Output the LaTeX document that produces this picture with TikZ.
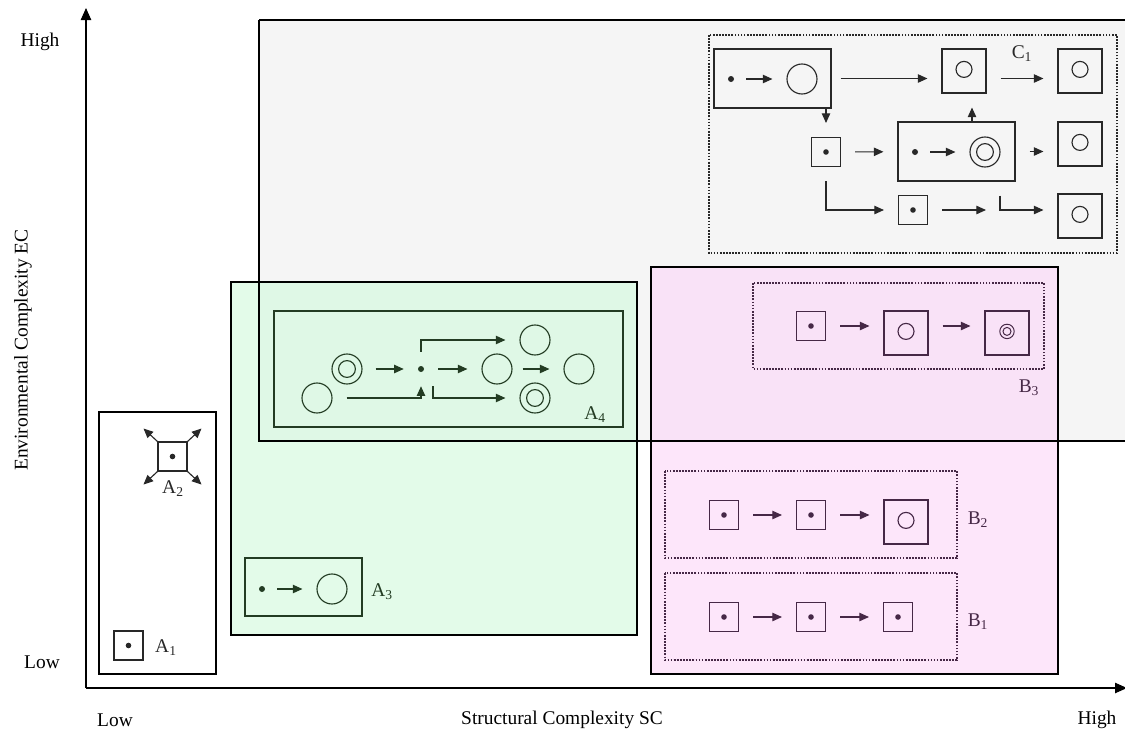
\documentclass[tikz,border=0pt]{standalone}
\usepackage{fontspec}
\setmainfont{Liberation Serif}
\usepackage{tikz}
\usetikzlibrary{arrows.meta,calc,positioning}

\definecolor{regGray}{RGB}{245,245,245}
\definecolor{regGreen}{RGB}{215,250,224}
\definecolor{regPink}{RGB}{252,219,248}
\definecolor{inkG}{RGB}{35,60,35}
\definecolor{inkP}{RGB}{70,40,70}
\definecolor{inkK}{RGB}{40,40,40}

\tikzset{
    region/.style = {line width=1.9pt},
    group/.style = {line width=1.5pt, dash pattern=on 1.2pt off 1pt},
    frame/.style = {draw, line width=0.75pt, inner sep=0pt},
    dotbox/.style = {frame, minimum size=7.25mm,
        path picture={\fill (path picture bounding box.center) circle (0.7mm);}},
    ringbox/.style = {frame, minimum size=11mm,
        path picture={\draw[line width=0.8pt] ([yshift=0.4mm]path picture bounding box.center) circle (2mm);}},
    dringbox/.style = {frame, minimum size=11mm,
        path picture={\draw[line width=0.7pt] ([yshift=0.4mm]path picture bounding box.center) circle (1.8mm)
                                                   ([yshift=0.4mm]path picture bounding box.center) circle (1mm);}},
    blob/.style = {circle, draw, line width=0.8pt, minimum size=7.5mm, inner sep=0pt},
    dblob/.style = {blob, path picture={\draw[line width=0.8pt] (path picture bounding box.center) circle (2.1mm);}},
    pt/.style = {circle, fill, inner sep=0pt, minimum size=1.5mm},
    flow/.style = {line width=0.8pt, -{Triangle[length=2.4mm,width=2.1mm]},
        shorten <=3.5mm, shorten >=3.5mm},
    axis/.style = {line width=0.8pt, -{Triangle[length=3mm,width=2.6mm]}},
    lbl/.style = {inner sep=0pt},
}

\begin{document}
\begin{tikzpicture}[x=0.25mm, y=-0.25mm, font=\fontsize{13.8pt}{16pt}\selectfont]

\useasboundingbox (0,0) rectangle (1125,733);

% regions
\fill[regGray] (259,20) rectangle (1140,441);
\fill[regGreen, fill opacity=0.7] (231,282) rectangle (637,635);
\fill[regPink, fill opacity=0.7] (651,267) rectangle (1058,674);

\draw[region] (259,20) -- (1140,20) (259,20) -- (259,441) -- (1140,441);
\draw[region] (231,282) rectangle (637,635);
\draw[region] (651,267) rectangle (1058,674);
\draw[region] (99,412) rectangle (216,674);

% axes
\draw[axis] (86,688) -- (86,8);
\draw[axis] (86,688) -- (1127,688);

\node[lbl] (yhigh) at (40,42) {High};
\node[lbl] (ylow) at (42,662) {Low};
\node[lbl] (xlow) at (115,720) {Low};
\node[lbl] (xhigh) at (1097,720) {High};
\node[lbl] (xname) at (562,720) {Structural Complexity SC};
\node[lbl, rotate=90] (yname) at (23,350) {Environmental Complexity EC};

% A1, A2
\begin{scope}[inkK]
\node[dotbox] (a1) at (128.5,645.5) {};
\node[lbl] (a1l) at (166,648) {A\textsubscript{1}};

\node[dotbox] (a2) at (172.5,456.5) {};
\node[lbl] (a2l) at (173,489) {A\textsubscript{2}};
\foreach \c/\dx/\dy in {north west/-14/-13, north east/14/-13, south west/-14/13, south east/14/13}
    \draw[line width=0.8pt, -{Triangle[length=2.4mm,width=2.1mm]}] (a2.\c) -- ++(\dx,\dy);
\end{scope}

% A3
\begin{scope}[inkG]
\node[frame, minimum width=29.25mm, minimum height=14.5mm] (a3) at (303.5,587) {};
\node[pt] (a3p) at (262,589) {};
\node[blob] (a3c) at (332,589) {};
\draw[flow, shorten <=3mm] (a3p) -- (a3c);
\node[lbl] (a3l) at (382,592) {A\textsubscript{3}};

% A4
\node[frame, minimum width=87.25mm, minimum height=29mm] (a4) at (448.5,369) {};
\node[dblob] (a4d1) at (347,369) {};
\node[blob] (a4b1) at (317,398) {};
\node[pt] (a4p) at (421,369) {};
\node[blob] (a4c1) at (497,369) {};
\node[blob] (a4t) at (535,340) {};
\node[dblob] (a4d2) at (535,398) {};
\node[blob] (a4c2) at (579,369) {};

\draw[flow, shorten <=3.25mm] (a4d1) -- (a4p);
\draw[flow] (a4b1) -| (a4p);
\draw[flow] (a4p) |- (a4t);
\draw[flow] ([xshift=3mm]a4p.south) |- (a4d2);
\draw[flow] (a4p) -- (a4c1);
\draw[flow, shorten <=2.5mm] (a4c1) -- (a4c2);
\node[lbl] (a4l) at (595,415) {A\textsubscript{4}};
\end{scope}

% B1, B2, B3
\begin{scope}[inkP]
\draw[group] (753,283) rectangle (1044,369);
\node[dotbox] (b31) at (811,326) {};
\node[ringbox] (b32) at (906,333) {};
\node[dringbox] (b33) at (1007,333) {};
\draw[flow] (b31.east) -- (b32.west |- b31.east);
\draw[flow] (b32.east |- b31.east) -- (b33.west |- b31.east);
\node[lbl] (b3l) at (1029,388) {B\textsubscript{3}};

\draw[group] (665,471) rectangle (957,558);
\node[dotbox] (b21) at (724,515) {};
\node[dotbox] (b22) at (811,515) {};
\node[ringbox] (b23) at (906,522) {};
\draw[flow] (b21) -- (b22);
\draw[flow] (b22.east) -- (b23.west |- b22.east);
\node[lbl] (b2l) at (978,520) {B\textsubscript{2}};

\draw[group] (665,573) rectangle (957,660);
\node[dotbox] (b11) at (724,617) {};
\node[dotbox] (b12) at (811,617) {};
\node[dotbox] (b13) at (898,617) {};
\draw[flow] (b11) -- (b12);
\draw[flow] (b12) -- (b13);
\node[lbl] (b1l) at (978,622) {B\textsubscript{1}};
\end{scope}

% C1
\begin{scope}[inkK]
\draw[group] (709,35) rectangle (1117,253);
\node[frame, minimum width=29.25mm, minimum height=14.75mm] (c11) at (772.5,78.5) {};
\node[pt] (c11p) at (731,79) {};
\node[blob] (c11c) at (802,79) {};
\draw[flow, shorten <=3mm] (c11p) -- (c11c);
\node[ringbox] (c12) at (964,71) {};
\node[ringbox] (c13) at (1080,71) {};
\node[dotbox] (c21) at (826,152) {};
\node[frame, minimum width=29.25mm, minimum height=14.75mm] (c22) at (956.5,151.5) {};
\node[pt] (c22p) at (915,152) {};
\node[dblob] (c22d) at (985,152) {};
\draw[flow, shorten <=3mm] (c22p) -- (c22d);
\node[ringbox] (c23) at (1080,144) {};
\node[dotbox] (c31) at (913,210) {};
\coordinate (c32) at (1000,210);
\node[ringbox] (c33) at (1080,216) {};
\coordinate (c12s) at ([xshift=2mm]c12.south);

\draw[flow, shorten <=2.25mm] (c11.east) -- (c12.west |- c11.east);
\draw[flow] (c12.east |- c11.east) -- (c13.west |- c11.east);
\draw[flow, shorten <=0pt] (c21.north |- c11.south) -- (c21.north);
\draw[flow, shorten <=0pt] (c12s |- c22.north) -- (c12s);
\draw[flow] (c21) -- (c22);
\draw[flow] (c22.east) -- (c23.west |- c22.east);
\draw[flow] (c21) |- (c31);
\draw[flow] (c31) -- (c32);
\draw[flow] (c32 |- c22.south) -- (c32) -- (c33.west |- c32);
\node[lbl] (c1l) at (1022,54) {C\textsubscript{1}};
\end{scope}

\end{tikzpicture}
\end{document}
